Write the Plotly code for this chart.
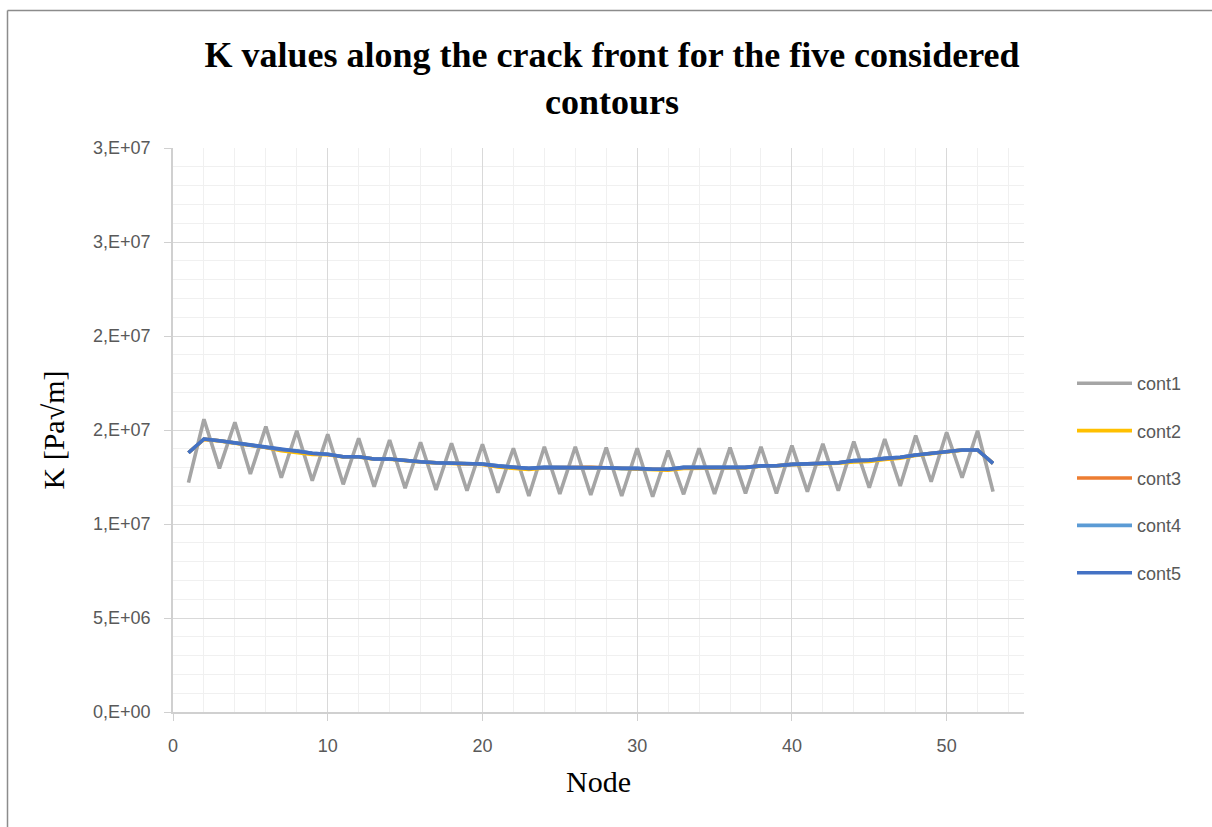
import numpy as np
import plotly.graph_objects as go

# Crack-front nodes
nodes = list(range(1, 54))

# Stress intensity factor per contour, in MPa·√m
cont1 = [12.20, 15.57, 12.96, 15.41, 12.66, 15.18, 12.46, 14.96, 12.30, 14.77,
         12.11, 14.56, 11.99, 14.47, 11.90, 14.34, 11.81, 14.29, 11.77, 14.24,
         11.67, 14.03, 11.49, 14.11, 11.60, 14.11, 11.54, 14.06, 11.49, 14.03,
         11.45, 13.90, 11.58, 14.03, 11.60, 14.06, 11.63, 14.11, 11.63, 14.17,
         11.72, 14.26, 11.77, 14.38, 11.93, 14.52, 12.02, 14.70, 12.25, 14.88,
         12.46, 14.96, 11.72]
cont2 = [13.79, 14.50, 14.42, 14.30, 14.18, 14.07, 13.90, 13.82, 13.70, 13.68,
         13.56, 13.57, 13.45, 13.45, 13.36, 13.30, 13.25, 13.22, 13.18, 13.17,
         13.03, 12.95, 12.90, 12.98, 13.00, 13.00, 13.00, 12.98, 12.95, 12.94,
         12.89, 12.86, 12.95, 12.97, 13.00, 13.00, 13.00, 13.08, 13.09, 13.16,
         13.18, 13.22, 13.24, 13.30, 13.33, 13.43, 13.50, 13.65, 13.75, 13.87,
         13.93, 13.93, 13.22]
cont3 = [13.79, 14.51, 14.43, 14.31, 14.19, 14.10, 13.95, 13.88, 13.75, 13.70,
         13.58, 13.58, 13.46, 13.46, 13.37, 13.31, 13.26, 13.23, 13.19, 13.18,
         13.08, 13.00, 12.95, 13.00, 13.01, 13.01, 13.01, 12.99, 12.96, 12.96,
         12.91, 12.90, 13.00, 13.01, 13.01, 13.01, 13.01, 13.09, 13.10, 13.17,
         13.19, 13.23, 13.26, 13.36, 13.39, 13.48, 13.54, 13.67, 13.76, 13.88,
         13.94, 13.94, 13.23]
cont4 = [13.79, 14.52, 14.43, 14.32, 14.20, 14.11, 13.96, 13.90, 13.76, 13.71,
         13.58, 13.58, 13.46, 13.46, 13.37, 13.31, 13.26, 13.23, 13.19, 13.19,
         13.09, 13.01, 12.96, 13.01, 13.01, 13.01, 13.01, 12.99, 12.96, 12.96,
         12.91, 12.91, 13.01, 13.01, 13.01, 13.01, 13.01, 13.09, 13.10, 13.17,
         13.19, 13.23, 13.26, 13.37, 13.40, 13.49, 13.55, 13.67, 13.76, 13.88,
         13.94, 13.94, 13.23]
cont5 = [13.79, 14.52, 14.43, 14.32, 14.20, 14.11, 13.97, 13.90, 13.76, 13.71,
         13.58, 13.58, 13.46, 13.46, 13.37, 13.31, 13.26, 13.23, 13.19, 13.19,
         13.09, 13.01, 12.96, 13.01, 13.01, 13.01, 13.01, 12.99, 12.96, 12.96,
         12.91, 12.91, 13.01, 13.01, 13.01, 13.01, 13.01, 13.09, 13.10, 13.17,
         13.19, 13.23, 13.26, 13.37, 13.40, 13.49, 13.55, 13.67, 13.76, 13.88,
         13.94, 13.94, 13.23]

series_names = ["cont1", "cont2", "cont3", "cont4", "cont5"]
series_colors = ["#A5A5A5", "#FFC000", "#ED7D31", "#5B9BD5", "#4472C4"]

x_tick_vals = [0, 10, 20, 30, 40, 50]
y_tick_vals = [0, 5e6, 10e6, 15e6, 20e6, 25e6, 30e6]
y_tick_text = ["0,E+00", "5,E+06", "1,E+07", "2,E+07", "2,E+07", "3,E+07", "3,E+07"]

W, H = 1212, 827
ML, MR, MT, MB = 173, 188, 148, 115
PW, PH = W - ML - MR, H - MT - MB

fig = go.Figure()
for name, vals, col in zip(series_names, [cont1, cont2, cont3, cont4, cont5], series_colors):
    fig.add_trace(go.Scatter(
        x=nodes, y=np.array(vals) * 1e6, mode="lines", name=name,
        legendgroup=name,
        line=dict(color=col, width=3.6),
    ))

tick_font = dict(family="Liberation Sans, Arial, sans-serif", size=18, color="#595959")
title_font = dict(family="Liberation Serif, Times New Roman, serif", size=30, color="#000000")

fig.update_xaxes(
    range=[0, 55], tickvals=x_tick_vals, tickfont=tick_font,
    showgrid=True, gridcolor="#D9D9D9", gridwidth=1,
    minor=dict(dtick=2, showgrid=True, gridcolor="#F0F0F0", gridwidth=1),
    showline=True, linecolor="#D0D0D0", linewidth=1.5,
    ticks="outside", ticklen=7, tickcolor="#D0D0D0",
    ticklabelstandoff=10,
    zeroline=False,
    title=dict(text="Node", font=title_font, standoff=16),
)
fig.update_yaxes(
    range=[0, 3e7], tickvals=y_tick_vals, ticktext=y_tick_text, tickfont=tick_font,
    showgrid=True, gridcolor="#D9D9D9", gridwidth=1,
    minor=dict(dtick=1e6, showgrid=True, gridcolor="#F0F0F0", gridwidth=1),
    showline=True, linecolor="#D0D0D0", linewidth=1.5,
    ticks="outside", ticklen=7, tickcolor="#D0D0D0",
    ticklabelstandoff=10,
    zeroline=False,
    title=dict(text="K [Pa√m]", font=title_font, standoff=20),
)

# Outer chart frame (top and left edges)
fx0 = (7.5 - ML) / PW
fy0 = (H - MB - 10.5) / PH
fig.add_shape(type="line", xref="paper", yref="paper", x0=fx0, x1=(W + 5 - ML) / PW,
              y0=fy0, y1=fy0, line=dict(color="#8C8C8C", width=1.5))
fig.add_shape(type="line", xref="paper", yref="paper", x0=fx0, x1=fx0,
              y0=fy0, y1=-(MB + 5) / PH, line=dict(color="#8C8C8C", width=1.5))

fig.update_layout(
    width=W, height=H,
    margin=dict(l=ML, r=MR, t=MT, b=MB),
    paper_bgcolor="white", plot_bgcolor="white",
    title=dict(
        text="<b>K values along the crack front for the five considered<br>contours</b>",
        font=dict(family="Liberation Serif, Times New Roman, serif", size=36, color="#000000"),
        x=612 / W, xanchor="center", y=1 - 67 / H, yanchor="middle",
    ),
    legend=dict(
        x=(1072 - ML) / PW, xanchor="left", y=(H - MB - 478) / PH, yanchor="middle",
        font=dict(family="Liberation Sans, Arial, sans-serif", size=18, color="#595959"),
        tracegroupgap=21, itemwidth=55, bgcolor="rgba(0,0,0,0)",
    ),
    showlegend=True,
)

fig.write_html("out.html")
